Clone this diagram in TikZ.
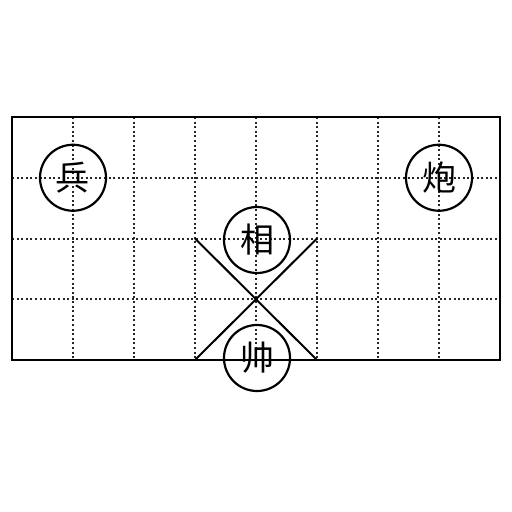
\documentclass[tikz,border=0pt]{standalone}
\usepackage{fontspec}
\newfontfamily\cjk{Noto Sans CJK SC}
\tikzset{
  gridline/.style={line width=2pt, dash pattern=on 2pt off 2.6pt, black!85},
  frame/.style={line width=1.5pt, black},
  xline/.style={line width=2pt, black},
  piece/.style={circle, draw, line width=2.2pt, minimum size=66pt, inner sep=0pt, font=\cjk\fontsize{34}{34}\selectfont},
}
\begin{document}
\begin{tikzpicture}[x=1pt,y=-1pt]
\useasboundingbox (0,0) rectangle (512,512);
% grid
\foreach \i in {1,...,7} {
  \draw[gridline] ({12+61*\i},117) -- ({12+61*\i},360);
}
\foreach \j in {1,2,3} {
  \draw[gridline] (12,{117+60.75*\j}) -- (500,{117+60.75*\j});
}
\draw[frame] (12,117) rectangle (500,360);
% palace cross
\coordinate (p1) at (195,238.5);
\coordinate (p2) at (317,238.5);
\coordinate (p3) at (195,360);
\coordinate (p4) at (317,360);
\draw[xline] (p1) -- (p4);
\draw[xline] (p2) -- (p3);
% pieces
\node[piece] (bing) at (73,177.75) {兵};
\node[piece] (pao) at (439,177.75) {炮};
\node[piece] (xiang) at (257,240) {相};
\node[piece] (shuai) at (257,358) {帅};
\end{tikzpicture}
\end{document}
